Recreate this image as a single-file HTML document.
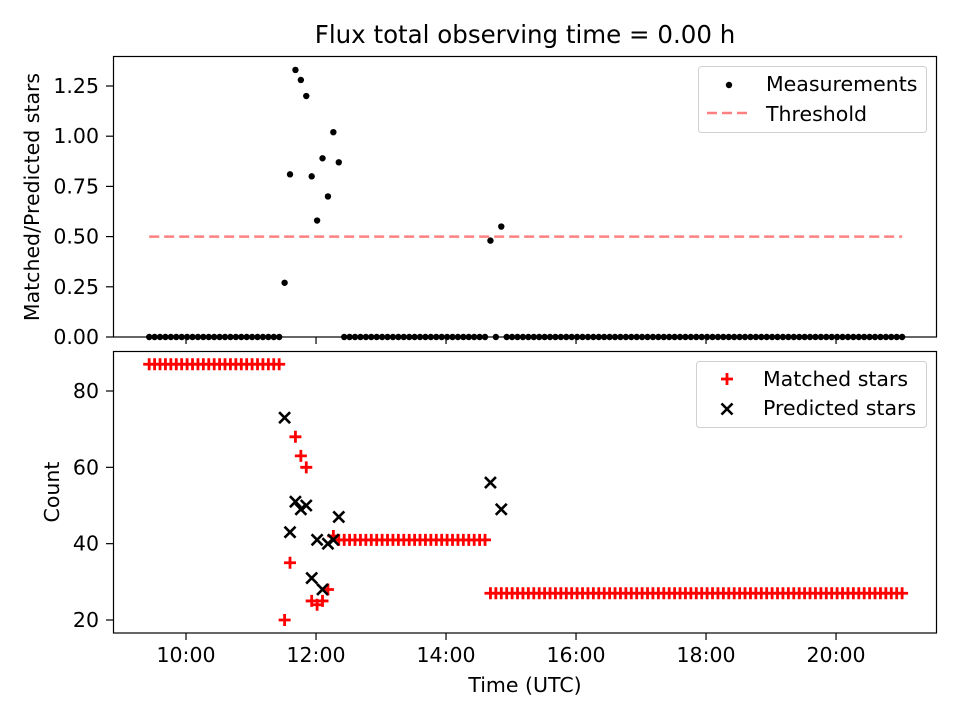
<!DOCTYPE html>
<html><head><meta charset="utf-8">
<style>
html,body{margin:0;padding:0;background:#fff;}
svg{display:block;font-family:"DejaVu Sans","Liberation Sans",sans-serif;}
</style></head>
<body>
<svg id="chart" width="960" height="720" viewBox="0 0 960 720" xmlns="http://www.w3.org/2000/svg">
<rect width="960" height="720" fill="#fff"/>
<text x="525" y="43" font-size="24.5" text-anchor="middle">Flux total observing time = 0.00 h</text>
<g id="topPanel"></g>
<g id="botPanel"></g>
<text transform="translate(39,197) rotate(-90)" font-size="20.5" text-anchor="middle">Matched/Predicted stars</text>
<text transform="translate(59,492) rotate(-90)" font-size="20.5" text-anchor="middle">Count</text>
<text x="525" y="692" font-size="20.5" text-anchor="middle">Time (UTC)</text>
<g>
<rect x="698.5" y="66.5" width="228" height="66" rx="3" fill="#fff" fill-opacity="0.8" stroke="#d0d0d0"/>
<circle cx="729" cy="85" r="3.2" fill="#000"/>
<text x="766" y="91" font-size="20.5">Measurements</text>
<line x1="707" y1="113" x2="748" y2="113" stroke="#ff8080" stroke-width="2.5" stroke-dasharray="10,5"/>
<text x="766" y="121" font-size="20.5">Threshold</text>
</g>
<g>
<rect x="696.5" y="361.5" width="230" height="66" rx="3" fill="#fff" fill-opacity="0.8" stroke="#d0d0d0"/>
<path d="M727 373v12M721 379h12" stroke="#f00" stroke-width="2.8"/>
<text x="763" y="386" font-size="20.5">Matched stars</text>
<path d="M721.5 403.5l11 11M732.5 403.5l-11 11" stroke="#000" stroke-width="2.6"/>
<text x="763" y="415" font-size="20.5">Predicted stars</text>
</g>
</svg>
<script>
const times=[566,571,576,581,586,591,596,601,606,611,616,621,626,631,636,641,646,651,656,661,666,671,676,681,686,
691,696,701,706,711,716,721,726,731,736,741,
746,751,756,761,766,771,776,781,786,791,796,801,806,811,816,821,826,831,836,841,846,851,856,861,866,871,876,
881,886,891,
896,901,906,911,916,921,926,931,936,941,946,951,956,961,966,971,976,981,986,991,996,1001,1006,1011,1016,1021,1026,1031,1036,1041,1046,1051,1056,1061,1066,1071,1076,1081,1086,1091,1096,1101,1106,1111,1116,1121,1126,1131,1136,1141,1146,1151,1156,1161,1166,1171,1176,1181,1186,1191,1196,1201,1206,1211,1216,1221,1226,1231,1236,1241,1246,1251,1256,1261];
const ratio=[0,0,0,0,0,0,0,0,0,0,0,0,0,0,0,0,0,0,0,0,0,0,0,0,0,
0.27,0.81,1.33,1.28,1.20,0.80,0.58,0.89,0.70,1.02,0.87,
0,0,0,0,0,0,0,0,0,0,0,0,0,0,0,0,0,0,0,0,0,0,0,0,0,0,0,
0.48,0,0.55,
0,0,0,0,0,0,0,0,0,0,0,0,0,0,0,0,0,0,0,0,0,0,0,0,0,0,0,0,0,0,0,0,0,0,0,0,0,0,0,0,0,0,0,0,0,0,0,0,0,0,0,0,0,0,0,0,0,0,0,0,0,0,0,0,0,0,0,0,0,0,0,0,0,0];
const matched=[87,87,87,87,87,87,87,87,87,87,87,87,87,87,87,87,87,87,87,87,87,87,87,87,87,
20,35,68,63,60,25,24,25,28,42,41,
41,41,41,41,41,41,41,41,41,41,41,41,41,41,41,41,41,41,41,41,41,41,41,41,41,41,41,
27,27,27,
27,27,27,27,27,27,27,27,27,27,27,27,27,27,27,27,27,27,27,27,27,27,27,27,27,27,27,27,27,27,27,27,27,27,27,27,27,27,27,27,27,27,27,27,27,27,27,27,27,27,27,27,27,27,27,27,27,27,27,27,27,27,27,27,27,27,27,27,27,27,27,27,27,27];
const predictedTimes=[691,696,701,706,711,716,721,726,731,736,741,881,891];
const predicted=[73,43,51,49,50,31,41,28,40,41,47,56,49];
const threshold=[0.5];
const xTicks=[600,720,840,960,1080,1200];
const xTickLabels=["10:00","12:00","14:00","16:00","18:00","20:00"];
const topTicks=[0,0.25,0.5,0.75,1.0,1.25];
const topTickLabels=["0.00","0.25","0.50","0.75","1.00","1.25"];
const botTicks=[20,40,60,80];
const botTickLabels=["20","40","60","80"];

const NS="http://www.w3.org/2000/svg";
const L=113,R=937;
const xs=t=>L+(t-532.6)/(1293.2-532.6)*(R-L);
const yT=v=>337-v*200.8;
const yB=v=>391-(v-80)*3.8167;
function mk(tag,attrs,parent){const e=document.createElementNS(NS,tag);for(const k in attrs)e.setAttribute(k,attrs[k]);parent.appendChild(e);return e;}
const gTop=document.getElementById('topPanel'),gBot=document.getElementById('botPanel');

function frame(g,y0,y1,ticks,labels,yf,showX,nm){
  for(let i=0;i<ticks.length;i++){
    const yy=yf(ticks[i]);
    const tk=mk('line',{x1:L-7,x2:L,y1:yy,y2:yy,stroke:'#000','stroke-width':1.2},g);
    
    
    const tl=mk('text',{x:L-14,y:yy+7,'font-size':20.5,'text-anchor':'end'},g);
    tl.textContent=labels[i];
    
    
  }
  for(let i=0;i<xTicks.length;i++){
    const xx=xs(xTicks[i]);
    const tk=mk('line',{x1:xx,x2:xx,y1:y1,y2:y1+7,stroke:'#000','stroke-width':1.2},g);
    
    
    if(showX){
      const tl=mk('text',{x:xx,y:y1+29,'font-size':20.5,'text-anchor':'middle'},g);
      tl.textContent=xTickLabels[i];
      
      
    }
  }
}

const thr=mk('line',{x1:xs(times[0]),x2:xs(times[times.length-1]),y1:yT(threshold[0]),y2:yT(threshold[0]),stroke:'#ff8080','stroke-width':2.5,'stroke-dasharray':'10,5'},gTop);


for(let i=0;i<times.length;i++){
  const c=mk('circle',{cx:xs(times[i]),cy:yT(ratio[i]),r:3.2,fill:'#000'},gTop);
  
  
}
const f1=mk('rect',{x:L+0.5,y:56.5,width:R-L-1,height:280.5,fill:'none',stroke:'#000','stroke-width':1.2},gTop);


frame(gTop,56,337,topTicks,topTickLabels,yT,false,'top');

for(let i=0;i<times.length;i++){
  const xx=xs(times[i]),yy=yB(matched[i]);
  const p=mk('path',{d:`M${xx} ${yy-6}v12M${xx-6} ${yy}h12`,stroke:'#f00','stroke-width':2.8},gBot);
  
  
}
for(let i=0;i<predictedTimes.length;i++){
  const xx=xs(predictedTimes[i]),yy=yB(predicted[i]);
  const p=mk('path',{d:`M${xx-5.5} ${yy-5.5}l11 11M${xx+5.5} ${yy-5.5}l-11 11`,stroke:'#000','stroke-width':2.6},gBot);
  
  
}
const f2=mk('rect',{x:L+0.5,y:351.5,width:R-L-1,height:281.5,fill:'none',stroke:'#000','stroke-width':1.2},gBot);


frame(gBot,351,633,botTicks,botTickLabels,yB,true,'bottom');
</script>
</body></html>
